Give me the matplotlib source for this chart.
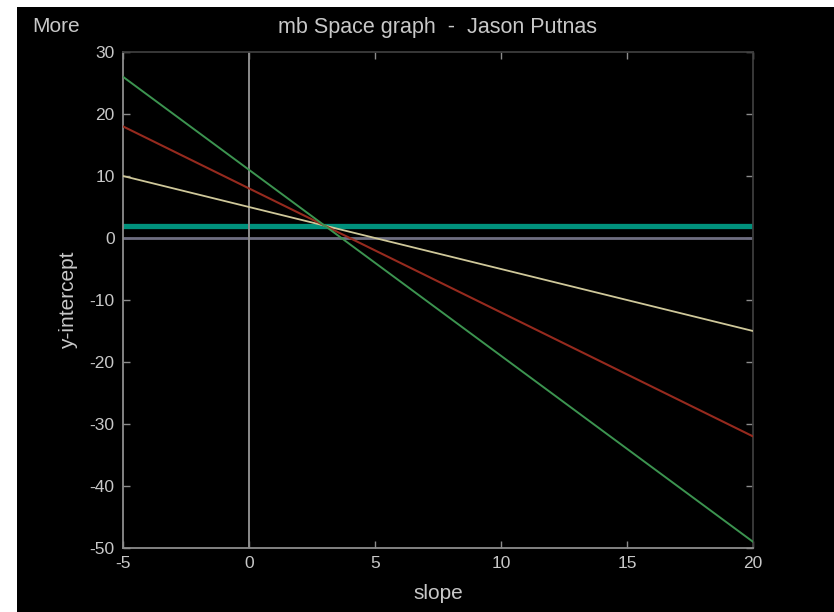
import matplotlib
matplotlib.use("Agg")
import matplotlib.pyplot as plt
from matplotlib.patches import Rectangle

# slope range (x axis) and the intercept at each end
slope = [-5, 20]
b_green = [26, -49]
b_red = [18, -32]
b_yellow = [10, -15]
b_cyan = [2, 2]
b_zero = [0, 0]

x_ticks = [-5, 0, 5, 10, 15, 20]
y_ticks = [30, 20, 10, 0, -10, -20, -30, -40, -50]

W, H = 834, 612
plt.rcParams["font.family"] = ["Liberation Sans", "DejaVu Sans"]
plt.rcParams["axes.unicode_minus"] = False

fig = plt.figure(figsize=(W / 100, H / 100), dpi=100)
fig.patch.set_facecolor("white")
# black MATLAB figure area, with the thin white strip left and top
fig.add_artist(Rectangle((17 / W, 0), 1, (H - 7) / H, transform=fig.transFigure,
                         facecolor="black", edgecolor="none", zorder=0))

ax = fig.add_axes([123 / W, 1 - 548 / H, 630 / W, 496 / H])
ax.set_facecolor("black")

ax.plot(slope, b_cyan, color="#00917c", lw=3.8, zorder=2)
ax.plot(slope, b_zero, color="#6e6e82", lw=2.0, zorder=2)
ax.axvline(0, color="#8c8c8c", lw=1.4, zorder=2)
ax.plot(slope, b_yellow, color="#cfc89a", lw=1.3, zorder=3)
ax.plot(slope, b_red, color="#962a1e", lw=1.5, zorder=3)
ax.plot(slope, b_green, color="#3c9450", lw=1.4, zorder=4)

ax.set_xlim(-5, 20)
ax.set_ylim(-50, 30)
ax.set_xticks(x_ticks)
ax.set_yticks(y_ticks)

txt = "#c8c8c8"
ax.tick_params(direction="in", length=5, width=1, colors="#8c8c8c",
               labelcolor=txt, labelsize=12.5, top=True, right=True, pad=6)
for side in ["left", "bottom"]:
    ax.spines[side].set_color("#8c8c8c")
    ax.spines[side].set_linewidth(1.3)
for side in ["top", "right"]:
    ax.spines[side].set_color("#3c3c3c")
    ax.spines[side].set_linewidth(1.3)

ax.set_xlabel("slope", color=txt, fontsize=15, labelpad=9)
ax.set_ylabel("y-intercept", color=txt, fontsize=15, labelpad=8)
ax.set_title("mb Space graph  -  Jason Putnas", color=txt, fontsize=15.5, pad=14)
fig.text(32 / W, 1 - 27 / H, "More", color=txt, fontsize=15, va="center", ha="left")

fig.savefig("out.png", dpi=100, facecolor=fig.get_facecolor())
